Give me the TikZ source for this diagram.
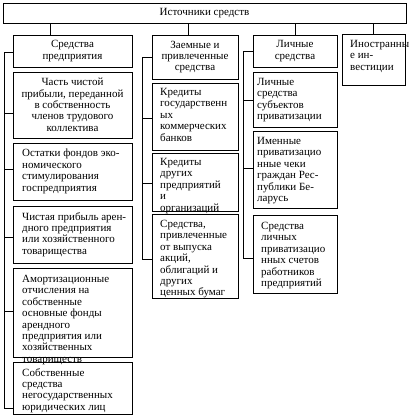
\documentclass[tikz,border=0pt]{standalone}
\usepackage{fontspec}
\setmainfont{Liberation Serif}
\newcommand\mybox[5]{\node[boxst, minimum width={(#4-#2)*1pt}, minimum height={(#5-#3)*1pt}] (#1) at (#2,#3) {};}
\begin{document}
\begin{tikzpicture}[x=1pt,y=-1pt,
  boxst/.style={draw, line width=0.8pt, inner sep=0pt, outer sep=0pt, anchor=north west},
  txt/.style={inner sep=0pt, anchor=north west, align=left, font=\fontsize{11}{11.4}\selectfont},
  ctxt/.style={inner sep=0pt, align=center, font=\fontsize{11}{11.4}\selectfont},
  conn/.style={line width=0.8pt}]
\useasboundingbox (0,0) rectangle (409,418);
% boxes
\mybox{top}{3}{3}{406}{23}
\mybox{c1h}{13}{35}{132}{67}
\mybox{c1b1}{13}{72}{132}{138}
\mybox{c1b2}{13}{143}{132}{200}
\mybox{c1b3}{13}{206}{132}{263}
\mybox{c1b4}{13}{268}{132}{357}
\mybox{c1b5}{13}{362}{132}{414}
\mybox{c2h}{152}{35}{238}{79}
\mybox{c2b1}{152}{83}{238}{150}
\mybox{c2b2}{152}{153}{238}{211}
\mybox{c2b3}{152}{214}{238}{298}
\mybox{c3h}{253}{35}{337}{67}
\mybox{c3b1}{253}{72}{337}{127}
\mybox{c3b2}{253}{131}{337}{208}
\mybox{c3b3}{253}{215}{337}{293}
\mybox{c4}{342}{34}{405}{85}
% texts
\node[ctxt] (topt) at (top.center) {Источники средств};
\node[ctxt] (c1ht) at (c1h.center) {Средства\\предприятия};
\node[ctxt, anchor=north] (c1b1t) at (72.5,78) {Часть чистой\\прибыли, переданной\\в собственность\\членов трудового\\коллектива};
\node[txt] (c1b2t) at (22,149) {Остатки фондов эко-\\номического\\стимулирования\\госпредприятия};
\node[txt] (c1b3t) at (22,212) {Чистая прибыль арен-\\дного предприятия\\или хозяйственного\\товарищества};
\node[txt] (c1b4t) at (22,275) {Амортизационные\\отчисления на\\собственные\\основные фонды\\арендного\\предприятия или\\хозяйственных\\товариществ};
\node[txt] (c1b5t) at (22,368) {Собственные\\средства\\негосударственных\\юридических лиц};
\node[ctxt] (c2ht) at (c2h.center) {Заемные и\\привлеченные\\средства};
\node[txt] (c2b1t) at (160,88) {Кредиты\\государственн\\ых\\коммерческих\\банков};
\node[txt] (c2b2t) at (160,158) {Кредиты\\других\\предприятий\\и\\организаций};
\node[txt] (c2b3t) at (160,220) {Средства,\\привлеченные\\от выпуска\\акций,\\облигаций и\\других\\ценных бумаг};
\node[ctxt] (c3ht) at (c3h.center) {Личные\\средства};
\node[txt] (c3b1t) at (257,78) {Личные\\средства\\субъектов\\приватизации};
\node[txt] (c3b2t) at (257,137) {Именные\\приватизацио\\нные чеки\\граждан Рес-\\публики Бе-\\ларусь};
\node[txt] (c3b3t) at (261,222) {Средства\\личных\\приватизацио\\нных счетов\\работников\\предприятий};
\node[txt] (c4t) at (350,40) {Иностранны\\е ин-\\вестиции};
% verticals from top
\coordinate (v1) at (50,0);
\coordinate (v2) at (188,0);
\coordinate (v3) at (295,0);
\coordinate (v4) at (373,0);
\draw[conn] (v1 |- top.south) -- (v1 |- c1h.north);
\draw[conn] (v2 |- top.south) -- (v2 |- c2h.north);
\draw[conn] (v3 |- top.south) -- (v3 |- c3h.north);
\draw[conn] (v4 |- top.south) -- (v4 |- c4.north);
% column 1 bus
\coordinate (a1) at (4,52);
\coordinate (a2) at (4,113);
\coordinate (a3) at (4,169);
\coordinate (a4) at (4,237);
\coordinate (a5) at (4,311);
\coordinate (a6) at (4,408);
\draw[conn] (a1) -- (a6);
\draw[conn] (a1) -- (a1 -| c1h.west);
\draw[conn] (a2) -- (a2 -| c1b1.west);
\draw[conn] (a3) -- (a3 -| c1b2.west);
\draw[conn] (a4) -- (a4 -| c1b3.west);
\draw[conn] (a5) -- (a5 -| c1b4.west);
\draw[conn] (a6) -- (a6 -| c1b5.west);
% column 2 bus
\coordinate (b1) at (142,57);
\coordinate (b2) at (142,118);
\coordinate (b3) at (142,183);
\coordinate (b4) at (142,259);
\draw[conn] (b1) -- (b4);
\draw[conn] (b1) -- (b1 -| c2h.west);
\draw[conn] (b2) -- (b2 -| c2b1.west);
\draw[conn] (b3) -- (b3 -| c2b2.west);
\draw[conn] (b4) -- (b4 -| c2b3.west);
% column 3 bus
\coordinate (d1) at (243,51);
\coordinate (d2) at (243,100);
\coordinate (d3) at (243,168);
\coordinate (d4) at (243,258);
\draw[conn] (d1) -- (d4);
\draw[conn] (d1) -- (d1 -| c3h.west);
\draw[conn] (d2) -- (d2 -| c3b1.west);
\draw[conn] (d3) -- (d3 -| c3b2.west);
\draw[conn] (d4) -- (d4 -| c3b3.west);
\end{tikzpicture}
\end{document}
